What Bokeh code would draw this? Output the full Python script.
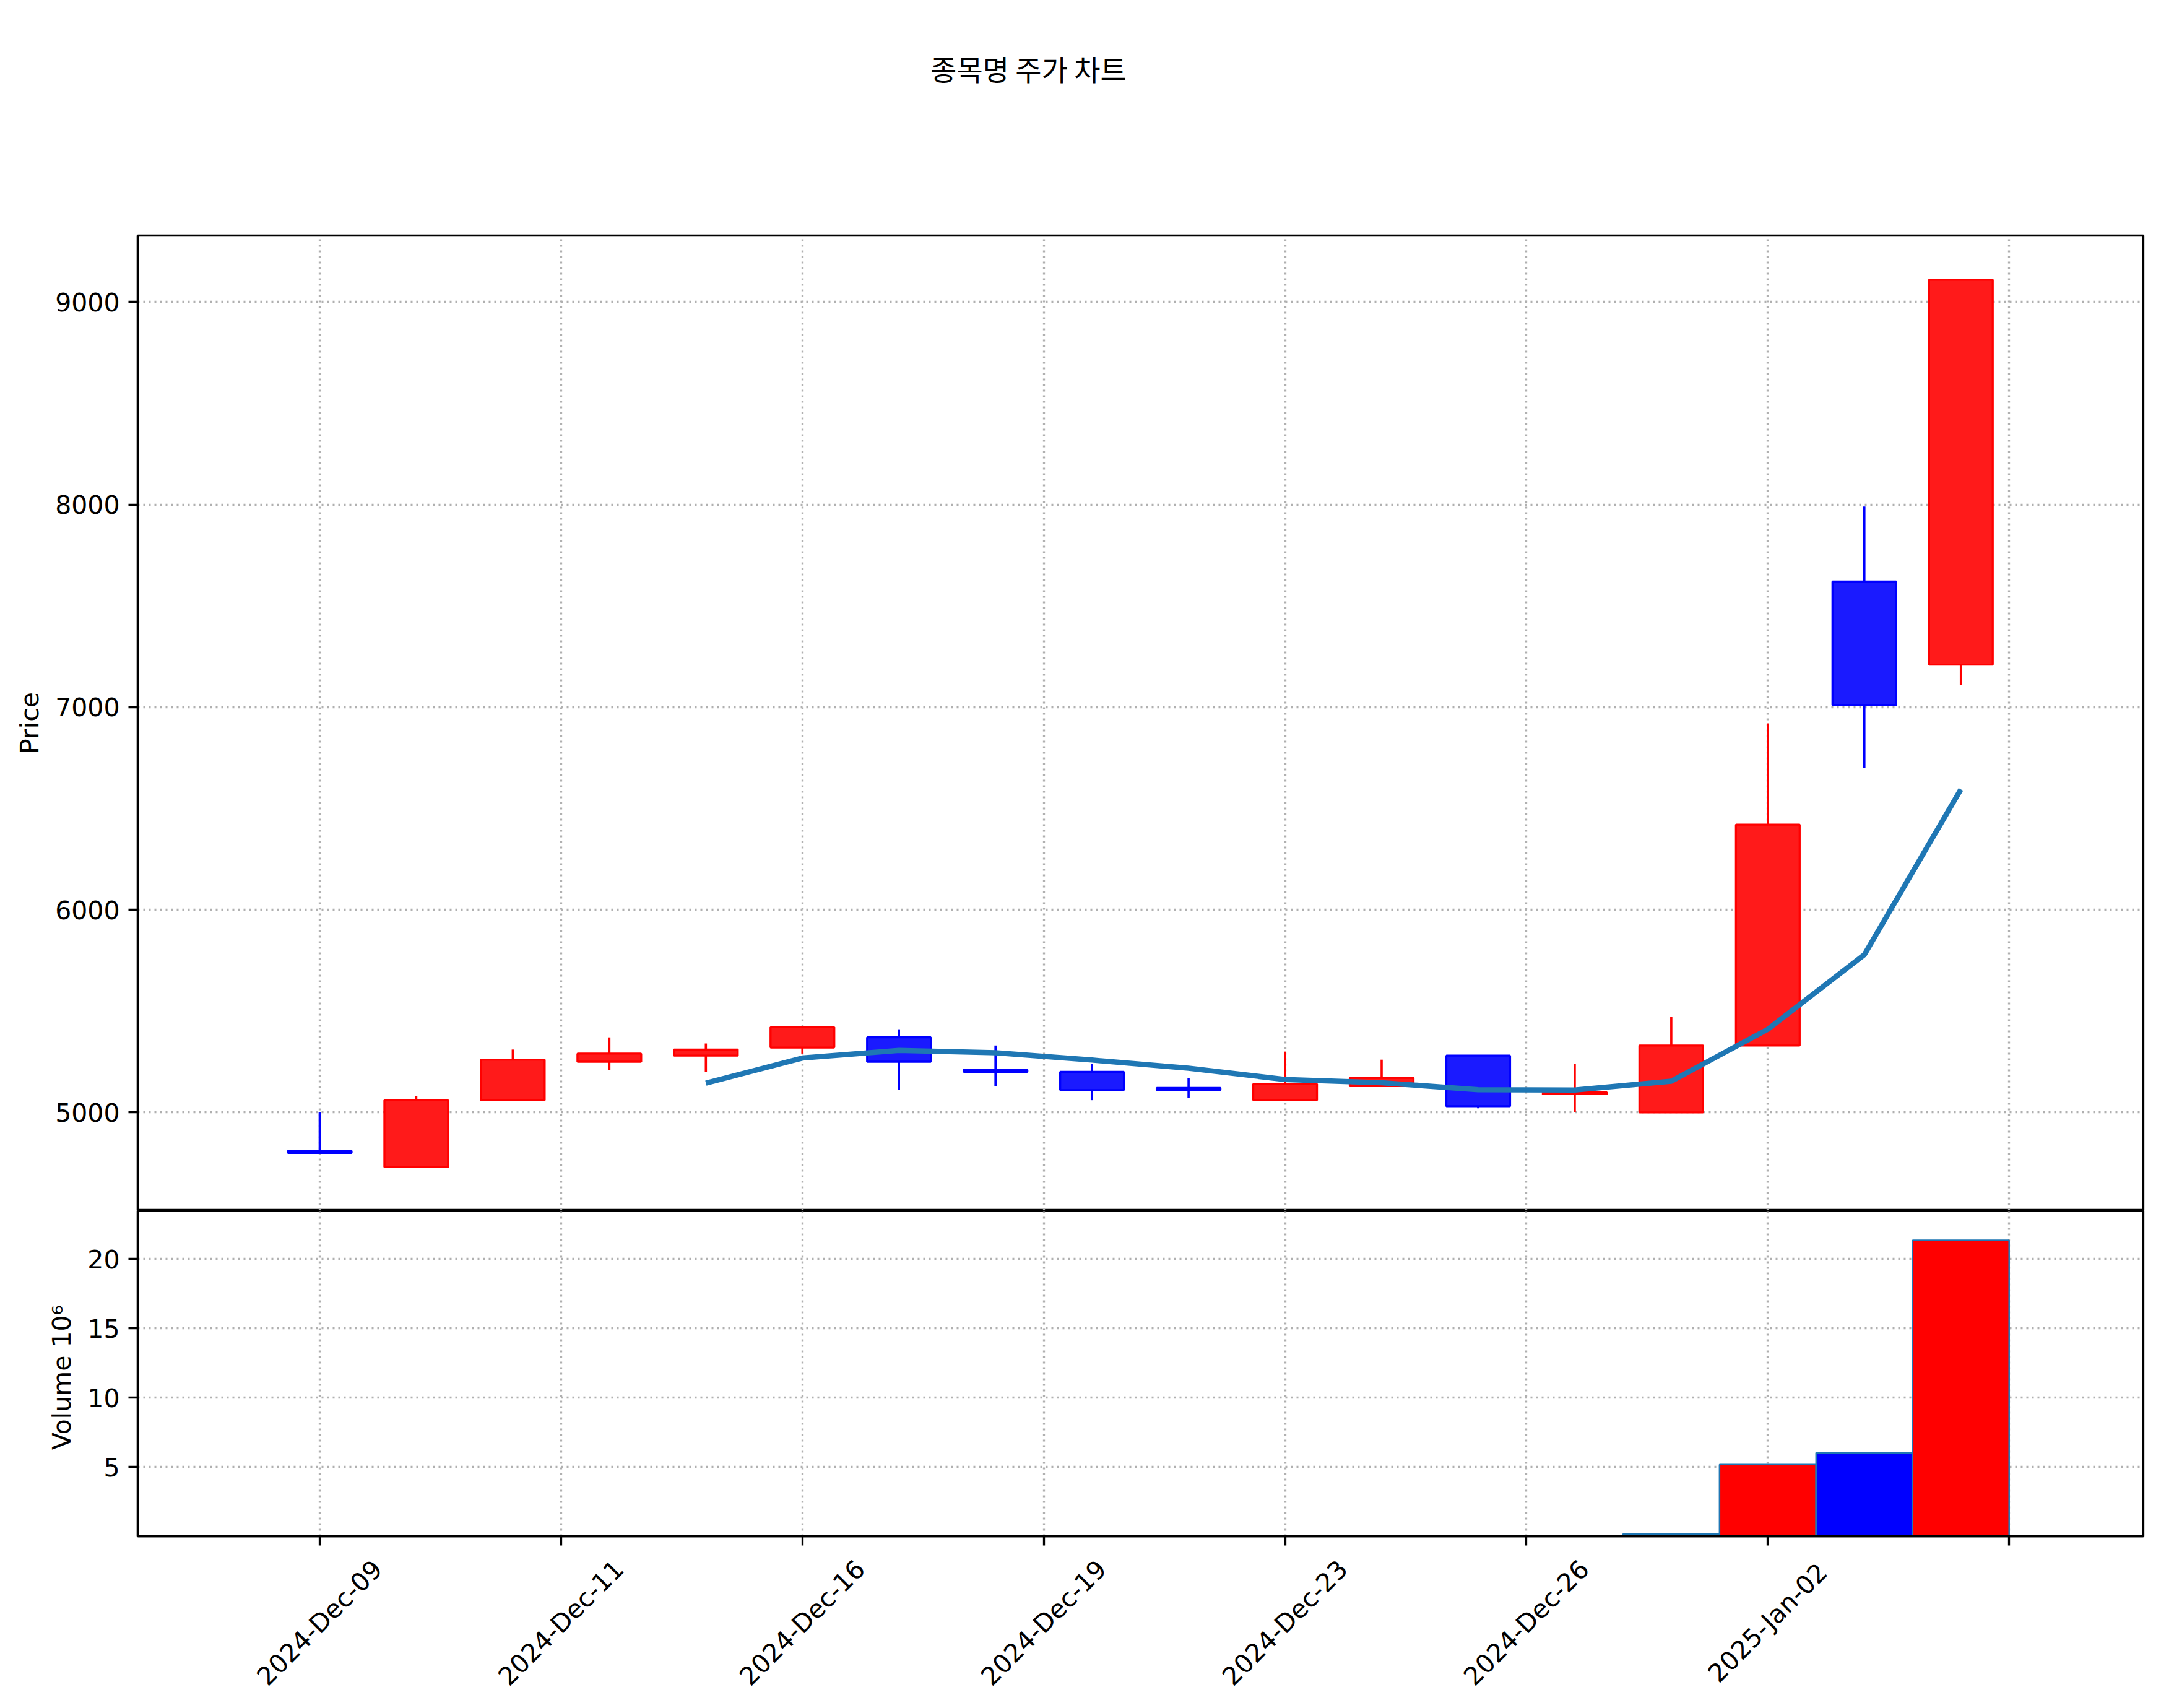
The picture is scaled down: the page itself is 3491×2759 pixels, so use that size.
import math
from bokeh.plotting import figure
from bokeh.layouts import column
from bokeh.models import ColumnDataSource, Range1d, FixedTicker, Grid
from bokeh.embed import file_html
from bokeh.resources import INLINE
from bokeh.core.properties import value

# ---------------- data ----------------
title_text = "종목명 주가 차트"
dates = ["2024-Dec-09", "2024-Dec-10", "2024-Dec-11", "2024-Dec-12", "2024-Dec-13",
         "2024-Dec-16", "2024-Dec-17", "2024-Dec-18", "2024-Dec-19", "2024-Dec-20",
         "2024-Dec-23", "2024-Dec-24", "2024-Dec-26", "2024-Dec-27", "2024-Dec-30",
         "2025-Jan-02", "2025-Jan-03", "2025-Jan-06"]
opens = [4810, 4730, 5060, 5250, 5280, 5320, 5370, 5210, 5200, 5120,
         5060, 5130, 5280, 5090, 5000, 5330, 7620, 7210]
highs = [5000, 5080, 5310, 5370, 5340, 5420, 5410, 5330, 5240, 5170,
         5300, 5260, 5280, 5240, 5470, 6920, 7990, 9110]
lows = [4800, 4730, 5060, 5210, 5200, 5290, 5110, 5130, 5060, 5070,
        5060, 5130, 5020, 5000, 5000, 5330, 6700, 7110]
closes = [4800, 5060, 5260, 5290, 5310, 5420, 5250, 5200, 5110, 5110,
          5140, 5170, 5030, 5100, 5330, 6420, 7010, 9110]
volumes = [60000, 20000, 60000, 15000, 15000, 20000, 60000, 15000, 20000, 15000,
           20000, 15000, 55000, 25000, 160000, 5170000, 6020000, 21350000]
mav_window = 5
price_ticks = [5000, 6000, 7000, 8000, 9000]
volume_ticks = [5, 10, 15, 20]
x_tick_pos = [0, 2.5, 5, 7.5, 10, 12.5, 15, 17.5]

# ---------------- derived ----------------
n = len(dates)
xs = list(range(n))
up = [c >= o for o, c in zip(opens, closes)]
body_fill = ["#ff1a1a" if u else "#1a1aff" for u in up]
edge_col = ["#ff0000" if u else "#0000ff" for u in up]
vol_fill = ["#ff0000" if u else "#0000ff" for u in up]
tops = [max(o, c) for o, c in zip(opens, closes)]
bots = [min(o, c) for o, c in zip(opens, closes)]
vol_m = [vv / 1e6 for vv in volumes]
ma_x = list(range(mav_window - 1, n))
ma_y = [sum(closes[i - mav_window + 1:i + 1]) / mav_window for i in ma_x]

lab_x, lab_t = [], []
for tp in x_tick_pos:
    k = round(tp)
    if k < n:
        lab_x.append(tp)
        lab_t.append(dates[k])

src = ColumnDataSource(dict(x=xs, o=opens, h=highs, l=lows, c=closes, top=tops, bot=bots,
                            fill=body_fill, edge=edge_col, vol=vol_m, vfill=vol_fill))

FONT = "DejaVu Sans"
FS = "41px"
GRID_COL = "#b0b0b0"
W = 3491
LEFT, RIGHT = 222, 29

x_range = Range1d(-1.885, 18.89)


def style_yaxis(ax, label):
    ax.axis_label = label
    ax.axis_label_text_font = FONT
    ax.axis_label_text_font_size = FS
    ax.axis_label_text_font_style = "normal"
    ax.axis_label_text_color = "black"
    ax.axis_label_standoff = 14
    ax.major_label_text_font = FONT
    ax.major_label_text_font_size = FS
    ax.major_label_text_color = "black"
    ax.major_tick_out = 15
    ax.major_tick_in = 0
    ax.major_tick_line_width = 3.3
    ax.major_tick_line_color = "black"
    ax.minor_tick_out = 0
    ax.minor_tick_in = 0
    ax.axis_line_width = 3.3
    ax.axis_line_color = "black"
    ax.major_label_standoff = 14


def add_grids(fig, yticks):
    for g in fig.grid:
        g.visible = False
    fig.add_layout(Grid(dimension=0, ticker=FixedTicker(ticks=x_tick_pos), grid_line_color=GRID_COL,
                        grid_line_width=3.3, grid_line_dash="3 6"))
    fig.add_layout(Grid(dimension=1, ticker=FixedTicker(ticks=yticks), grid_line_color=GRID_COL,
                        grid_line_width=3.3, grid_line_dash="3 6"))


# ---------------- title strip (x range in page pixels of the frame) ----------------
t = figure(width=W, height=378, x_range=Range1d(LEFT, W - RIGHT), y_range=Range1d(0, 378),
           x_axis_location=None, y_axis_location=None, toolbar_location=None,
           output_backend="svg", min_border_left=LEFT, min_border_right=RIGHT,
           min_border_top=0, min_border_bottom=0, outline_line_color=None,
           border_fill_color="white", background_fill_color="white")
for g in t.grid:
    g.visible = False
t.text(x=[1661], y=[378 - 109], text=[title_text], text_font=value("Noto Sans CJK KR"),
       text_font_size=value("46px"), text_align="center", text_baseline="middle",
       text_color="black")

# ---------------- price panel ----------------
p = figure(width=W, height=1577, x_range=x_range, y_range=Range1d(4515, 9328),
           x_axis_location=None, toolbar_location=None, output_backend="svg",
           min_border_left=LEFT, min_border_right=RIGHT, min_border_top=2,
           min_border_bottom=0, background_fill_color="white", border_fill_color="white")
add_grids(p, price_ticks)
p.outline_line_color = "black"
p.outline_line_width = 3.3
ax = p.yaxis[0]
ax.ticker = FixedTicker(ticks=price_ticks)
style_yaxis(ax, "Price")

p.segment(x0="x", y0="l", x1="x", y1="h", line_color="edge", line_width=3.6, source=src)
p.vbar(x="x", top="top", bottom="bot", width=0.66, fill_color="fill", line_color="edge",
       line_width=3.3, source=src)
p.line(ma_x, ma_y, line_color="#1f77b4", line_width=8.5, line_join="round")

# ---------------- volume panel ----------------
v = figure(width=W, height=546, x_range=x_range, y_range=Range1d(0, 23.5),
           toolbar_location=None, output_backend="svg",
           min_border_left=LEFT, min_border_right=RIGHT, min_border_top=0,
           min_border_bottom=20, background_fill_color="white", border_fill_color="white")
add_grids(v, volume_ticks)
v.outline_line_color = "black"
v.outline_line_width = 3.3
vy = v.yaxis[0]
vy.ticker = FixedTicker(ticks=volume_ticks)
style_yaxis(vy, "Volume  10\u2076")

vx = v.xaxis[0]
vx.ticker = FixedTicker(ticks=x_tick_pos)
vx.major_label_overrides = {tp: "" for tp in x_tick_pos}
vx.major_label_text_font_size = "0px"
vx.major_label_standoff = 0
vx.major_tick_out = 15
vx.major_tick_in = 0
vx.major_tick_line_width = 3.3
vx.major_tick_line_color = "black"
vx.minor_tick_out = 0
vx.minor_tick_in = 0
vx.axis_line_width = 3.3
vx.axis_line_color = "black"

v.vbar(x="x", top="vol", bottom=0, width=1.0, fill_color="vfill", line_color="#1f77b4",
       line_width=2.5, source=src)

# ---------------- date labels strip ----------------
LH = 2759 - 378 - 1577 - 546
d = figure(width=W, height=LH, x_range=x_range, y_range=Range1d(0, LH),
           x_axis_location=None, y_axis_location=None, toolbar_location=None,
           output_backend="svg", min_border_left=LEFT, min_border_right=RIGHT,
           min_border_top=0, min_border_bottom=0, outline_line_color=None,
           border_fill_color="white", background_fill_color="white")
for g in d.grid:
    g.visible = False
d.text(x=lab_x, y=[LH - 120] * len(lab_x), text=lab_t, angle=math.pi / 4,
       text_font=value(FONT), text_font_size=value(FS), text_align="center",
       text_baseline="middle", text_color="black")

layout = column(t, p, v, d, spacing=0)
open("out.html", "w").write(file_html(layout, INLINE))
